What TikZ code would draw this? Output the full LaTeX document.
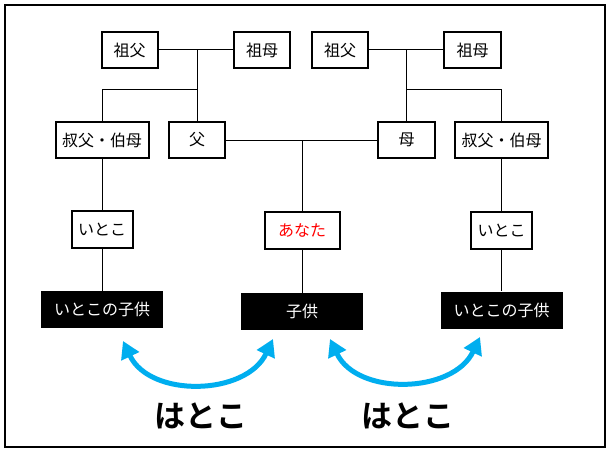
\documentclass[tikz,border=0pt]{standalone}
\usepackage{fontspec}
\setmainfont{Noto Sans CJK JP}
\newfontfamily\jpbold{Noto Sans CJK JP}[BoldFont={* Bold}]
\usetikzlibrary{arrows.meta}
\definecolor{arrowcyan}{HTML}{00AEEF}
\tikzset{
  wbox/.style={draw=black, line width=2pt, fill=white, inner sep=0pt, minimum height=36pt, font=\fontsize{16}{19}\selectfont},
  bbox/.style={fill=black, text=white, inner sep=0pt, minimum width=122pt, minimum height=37pt, font=\fontsize{16}{19}\selectfont},
  conn/.style={draw=black, line width=1pt},
  hatoarrow/.style={draw=arrowcyan, line width=5pt, {Triangle[length=17pt,width=19pt]}-{Triangle[length=17pt,width=19pt]}},
  hatolabel/.style={font=\jpbold\bfseries\fontsize{31}{35}\selectfont, inner sep=0pt}
}
\begin{document}
\begin{tikzpicture}[x=1pt,y=-1pt]
\useasboundingbox (0,0) rectangle (611,452);
\fill[white] (0,0) rectangle (611,452);
\draw[line width=2pt] (5,5) rectangle (605,447);

% generation 1
\node[wbox, minimum width=56pt] (gf1) at (129.5,50) {祖父};
\node[wbox, minimum width=56pt] (gm1) at (262,50) {祖母};
\node[wbox, minimum width=56pt] (gf2) at (340,50) {祖父};
\node[wbox, minimum width=57pt] (gm2) at (472.5,50) {祖母};

% generation 2
\node[wbox, minimum width=93pt] (uncle1) at (102,140) {叔父・伯母};
\node[wbox, minimum width=56pt] (father) at (197,140) {父};
\node[wbox, minimum width=57pt] (mother) at (406.5,140) {母};
\node[wbox, minimum width=93pt] (uncle2) at (501.5,140) {叔父・伯母};

% generation 3
\node[wbox, minimum width=61pt, minimum height=37pt] (cousin1) at (102,229.5) {いとこ};
\node[wbox, minimum width=75pt, minimum height=37pt, text=red] (anata) at (302,230.5) {あなた};
\node[wbox, minimum width=61pt, minimum height=37pt] (cousin2) at (501.5,230.5) {いとこ};

% generation 4
\node[bbox] (cc1) at (102,309.5) {いとこの子供};
\node[bbox] (child) at (302,311.5) {子供};
\node[bbox] (cc2) at (501.5,310) {いとこの子供};

% connectors left
\coordinate (j1) at (father |- gf1);
\coordinate (b1) at (197,90);
\draw[conn] (gf1.east) -- (gm1.west);
\draw[conn] (j1) -- (father.north);
\draw[conn] (uncle1.north) |- (b1);

% connectors right
\coordinate (j2) at (mother |- gf2);
\coordinate (b2) at (406.5,90);
\draw[conn] (gf2.east) -- (gm2.west);
\draw[conn] (j2) -- (mother.north);
\draw[conn] (uncle2.north) |- (b2);

% parents
\coordinate (p) at (anata |- father);
\draw[conn] (father.east) -- (mother.west);
\draw[conn] (p) -- (anata.north);
\draw[conn] (anata.south) -- (child.north);

\draw[conn] (uncle1.south) -- (cousin1.north);
\draw[conn] (cousin1.south) -- (cc1.north);
\draw[conn] (uncle2.south) -- (cousin2.north);
\draw[conn] (cousin2.south) -- (cc2.north);

% arrows
\coordinate (a1s) at (123,341);
\coordinate (a1e) at (273,339);
\coordinate (a2s) at (330,339);
\coordinate (a2e) at (480,337);
\draw[hatoarrow] (a1s) .. controls (150,398) and (246,396) .. (a1e);
\draw[hatoarrow] (a2s) .. controls (357,396) and (453,394) .. (a2e);

\node[hatolabel] (h1) at (201,416) {はとこ};
\node[hatolabel] (h2) at (408,416) {はとこ};
\end{tikzpicture}
\end{document}
